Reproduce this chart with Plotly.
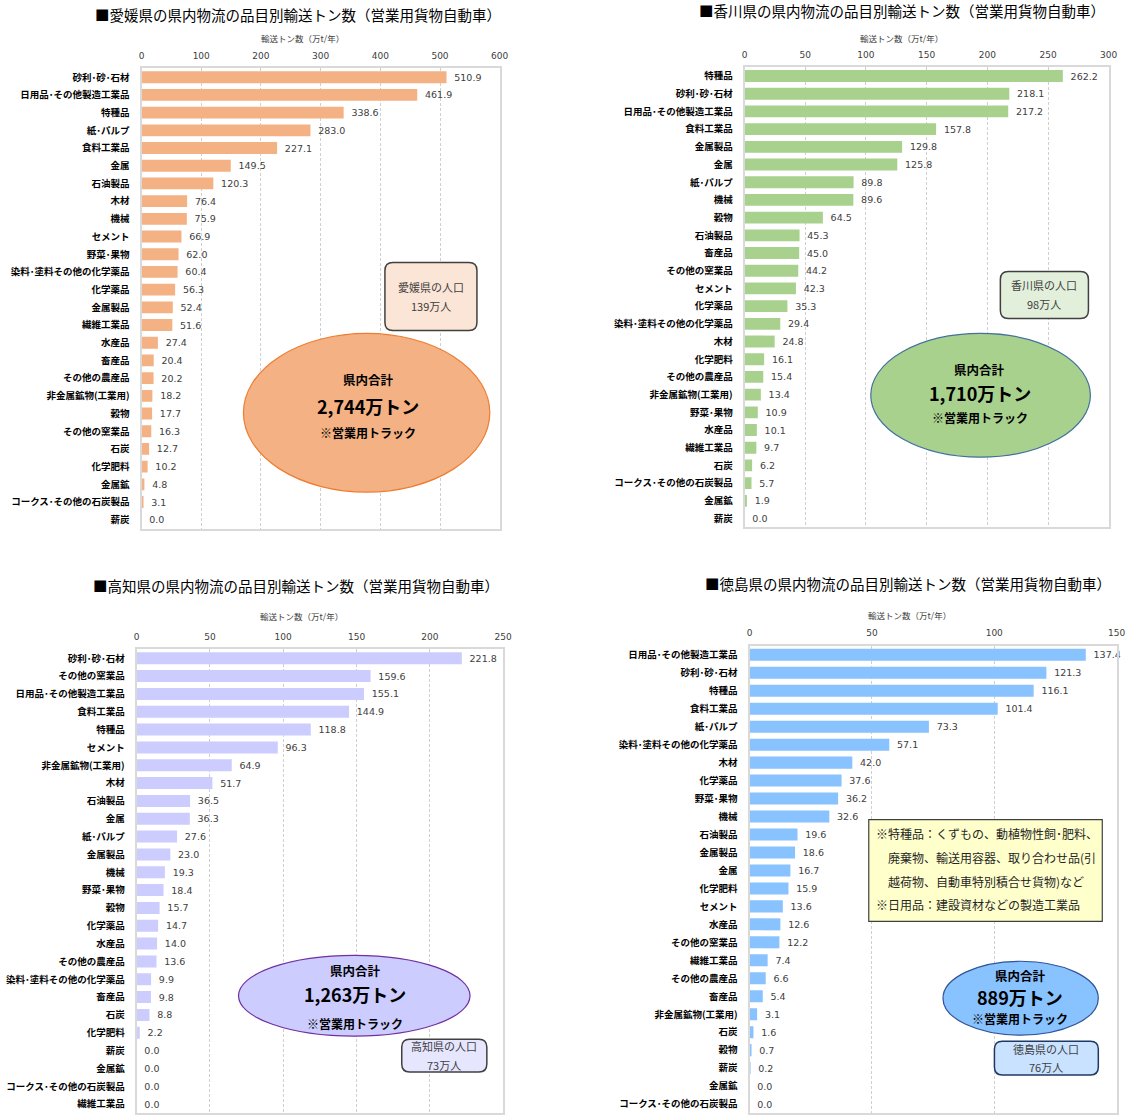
import plotly.graph_objects as go

W, H = 1137, 1115


def px(x):
    return x / W


def py(y):
    return 1 - y / H


# ---------------- data ----------------
ehime_cats = ["砂利･砂･石材", "日用品･その他製造工業品", "特種品", "紙･パルプ", "食料工業品", "金属", "石油製品",
              "木材", "機械", "セメント", "野菜･果物", "染料･塗料その他の化学薬品", "化学薬品", "金属製品",
              "繊維工業品", "水産品", "畜産品", "その他の農産品", "非金属鉱物(工業用)", "穀物", "その他の窯業品",
              "石炭", "化学肥料", "金属鉱", "コークス･その他の石炭製品", "薪炭"]
ehime_vals = [510.9, 461.9, 338.6, 283.0, 227.1, 149.5, 120.3, 76.4, 75.9, 66.9, 62.0, 60.4, 56.3, 52.4,
              51.6, 27.4, 20.4, 20.2, 18.2, 17.7, 16.3, 12.7, 10.2, 4.8, 3.1, 0.0]

kagawa_cats = ["特種品", "砂利･砂･石材", "日用品･その他製造工業品", "食料工業品", "金属製品", "金属", "紙･パルプ",
               "機械", "穀物", "石油製品", "畜産品", "その他の窯業品", "セメント", "化学薬品",
               "染料･塗料その他の化学薬品", "木材", "化学肥料", "その他の農産品", "非金属鉱物(工業用)", "野菜･果物",
               "水産品", "繊維工業品", "石炭", "コークス･その他の石炭製品", "金属鉱", "薪炭"]
kagawa_vals = [262.2, 218.1, 217.2, 157.8, 129.8, 125.8, 89.8, 89.6, 64.5, 45.3, 45.0, 44.2, 42.3, 35.3,
               29.4, 24.8, 16.1, 15.4, 13.4, 10.9, 10.1, 9.7, 6.2, 5.7, 1.9, 0.0]

kochi_cats = ["砂利･砂･石材", "その他の窯業品", "日用品･その他製造工業品", "食料工業品", "特種品", "セメント",
              "非金属鉱物(工業用)", "木材", "石油製品", "金属", "紙･パルプ", "金属製品", "機械", "野菜･果物",
              "穀物", "化学薬品", "水産品", "その他の農産品", "染料･塗料その他の化学薬品", "畜産品", "石炭",
              "化学肥料", "薪炭", "金属鉱", "コークス･その他の石炭製品", "繊維工業品"]
kochi_vals = [221.8, 159.6, 155.1, 144.9, 118.8, 96.3, 64.9, 51.7, 36.5, 36.3, 27.6, 23.0, 19.3, 18.4,
              15.7, 14.7, 14.0, 13.6, 9.9, 9.8, 8.8, 2.2, 0.0, 0.0, 0.0, 0.0]

toku_cats = ["日用品･その他製造工業品", "砂利･砂･石材", "特種品", "食料工業品", "紙･パルプ",
             "染料･塗料その他の化学薬品", "木材", "化学薬品", "野菜･果物", "機械", "石油製品", "金属製品", "金属",
             "化学肥料", "セメント", "水産品", "その他の窯業品", "繊維工業品", "その他の農産品", "畜産品",
             "非金属鉱物(工業用)", "石炭", "穀物", "薪炭", "金属鉱", "コークス･その他の石炭製品"]
toku_vals = [137.4, 121.3, 116.1, 101.4, 73.3, 57.1, 42.0, 37.6, 36.2, 32.6, 19.6, 18.6, 16.7, 15.9,
             13.6, 12.6, 12.2, 7.4, 6.6, 5.4, 3.1, 1.6, 0.7, 0.2, 0.0, 0.0]

titles = ["■愛媛県の県内物流の品目別輸送トン数（営業用貨物自動車）",
          "■香川県の県内物流の品目別輸送トン数（営業用貨物自動車）",
          "■高知県の県内物流の品目別輸送トン数（営業用貨物自動車）",
          "■徳島県の県内物流の品目別輸送トン数（営業用貨物自動車）"]
axis_title = "輸送トン数（万t/年）"
totals = ["2,744万トン", "1,710万トン", "1,263万トン", "889万トン"]
pops = [("愛媛県の人口", "139万人"), ("香川県の人口", "98万人"), ("高知県の人口", "73万人"), ("徳島県の人口", "76万人")]
x_max = [600, 300, 250, 150]
x_dtick = [100, 50, 50, 50]

# ---------------- layout per panel (pixels) ----------------
panels = [
    dict(cats=ehime_cats, vals=ehime_vals, color="#F4B183",
         xd=(140, 502), yd=(68.5, 529.5), title=(298, 15), atitle=(303, 38),
         ell=(243, 334, 492, 493), ellfill="#F4B183", ellline="#ED7D31",
         ell_tx=369, ell_ty=(380, 407, 433),
         pop=(386, 263, 479, 331), popfill="#FBE5D6", popline="#404040", pop_ty=(288, 307)),
    dict(cats=kagawa_cats, vals=kagawa_vals, color="#A9D18E",
         xd=(749.5, 1117.5), yd=(67.3, 528.3), title=(909, 10.5), atitle=(908, 38),
         ell=(877, 334, 1099, 458), ellfill="#A9D18E", ellline="#41719C",
         ell_tx=987, ell_ty=(370, 394, 418),
         pop=(1008, 272, 1097, 319), popfill="#E2EFDA", popline="#404040", pop_ty=(286, 305)),
    dict(cats=kochi_cats, vals=kochi_vals, color="#CCCCFF",
         xd=(135, 505.5), yd=(650.5, 1115), title=(296, 587), atitle=(302, 617),
         ell=(238, 957, 472, 1038), ellfill="#CCCCFF", ellline="#7030A0",
         ell_tx=356, ell_ty=(972, 996, 1025),
         pop=(403, 1041, 489, 1074), popfill="#E6E6FF", popline="#404040", pop_ty=(1048, 1067)),
    dict(cats=toku_cats, vals=toku_vals, color="#88C2FF",
         xd=(754.5, 1125.5), yd=(647, 1115), title=(915, 585), atitle=(916, 616),
         ell=(950, 963, 1107, 1037), ellfill="#88C2FF", ellline="#2F5597",
         ell_tx=1028, ell_ty=(977, 999, 1020),
         pop=(1002, 1043, 1107, 1077), popfill="#C9E2FF", popline="#1F3864", pop_ty=(1051, 1069)),
]

JP = "Noto Sans CJK JP"
NUM = "DejaVu Sans"

fig = go.Figure()
shapes = []
annotations = []
layout_axes = {}


def rounded_rect(x0, y0, x1, y1, r):
    X0, X1 = px(x0), px(x1)
    Y0, Y1 = py(y0), py(y1)
    rx, ry = r / W, r / H
    return (f"M {X0 + rx},{Y0} L {X1 - rx},{Y0} Q {X1},{Y0} {X1},{Y0 - ry} "
            f"L {X1},{Y1 + ry} Q {X1},{Y1} {X1 - rx},{Y1} "
            f"L {X0 + rx},{Y1} Q {X0},{Y1} {X0},{Y1 + ry} "
            f"L {X0},{Y0 - ry} Q {X0},{Y0} {X0 + rx},{Y0} Z")


for i, p in enumerate(panels):
    n = "" if i == 0 else str(i + 1)
    xa, ya = "x" + n, "y" + n
    fig.add_trace(go.Bar(
        x=p["vals"], y=p["cats"], orientation="h",
        marker=dict(color=p["color"], line=dict(width=0)),
        texttemplate="\u2002%{x:.1f}", textposition="outside",
        textfont=dict(family=NUM, size=9.5, color="#404040"),
        constraintext="none", cliponaxis=False,
        xaxis=xa, yaxis=ya, showlegend=False, hoverinfo="skip",
    ))
    layout_axes["xaxis" + n] = dict(
        domain=[px(p["xd"][0]), px(p["xd"][1])], anchor=ya, side="top",
        range=[0, x_max[i]], tick0=0, dtick=x_dtick[i],
        showgrid=True, gridcolor="#CFCFCF", griddash="3px,2px", gridwidth=1,
        showline=True, mirror=True, linecolor="#D9D9D9", linewidth=2,
        zeroline=False, ticks="", ticklabelstandoff=4,
        tickfont=dict(family=NUM, size=9, color="#404040"), fixedrange=True,
    )
    layout_axes["yaxis" + n] = dict(
        domain=[py(p["yd"][1]), py(p["yd"][0])], anchor=xa, type="category",
        categoryorder="array", categoryarray=p["cats"], autorange="reversed",
        showline=True, mirror=True, linecolor="#D9D9D9", linewidth=2,
        showgrid=False, zeroline=False, ticks="", ticklabelstandoff=8,
        tickfont=dict(family=JP, size=9.5, color="#000000", weight="bold"), fixedrange=True,
    )
    # title
    annotations.append(dict(text=titles[i], x=px(p["title"][0]), y=py(p["title"][1]),
                            xref="paper", yref="paper", xanchor="center", yanchor="middle",
                            showarrow=False, font=dict(family=JP, size=14.5, color="#000000")))
    annotations.append(dict(text=axis_title, x=px(p["atitle"][0]), y=py(p["atitle"][1]),
                            xref="paper", yref="paper", xanchor="center", yanchor="middle",
                            showarrow=False, font=dict(family=JP, size=8.5, color="#404040")))
    # ellipse
    ex0, ey0, ex1, ey1 = p["ell"]
    shapes.append(dict(type="circle", xref="paper", yref="paper",
                       x0=px(ex0), x1=px(ex1), y0=py(ey1), y1=py(ey0),
                       fillcolor=p["ellfill"], line=dict(color=p["ellline"], width=1.2), layer="above"))
    for txt, yy, sz in zip(["県内合計", totals[i], "※営業用トラック"], p["ell_ty"], [12.5, 18, 12]):
        annotations.append(dict(text=f"<b>{txt}</b>", x=px(p["ell_tx"]), y=py(yy),
                                xref="paper", yref="paper", xanchor="center", yanchor="middle",
                                showarrow=False, font=dict(family=JP, size=sz, color="#000000")))
    # population box
    bx0, by0, bx1, by1 = p["pop"]
    shapes.append(dict(type="path", xref="paper", yref="paper", path=rounded_rect(bx0, by0, bx1, by1, 8),
                       fillcolor=p["popfill"], line=dict(color=p["popline"], width=1.5), layer="above"))
    for txt, yy in zip(pops[i], p["pop_ty"]):
        annotations.append(dict(text=txt, x=px((bx0 + bx1) / 2), y=py(yy),
                                xref="paper", yref="paper", xanchor="center", yanchor="middle",
                                showarrow=False, font=dict(family=JP, size=11, color="#404040")))

# Tokushima note box
shapes.append(dict(type="rect", xref="paper", yref="paper", x0=px(875), x1=px(1111), y0=py(923), y1=py(821),
                   fillcolor="#FFFFCC", line=dict(color="#404040", width=1.2), layer="above"))
note_lines = [("※特種品：くずもの、動植物性飼･肥料、", 880, 835),
              ("廃棄物、輸送用容器、取り合わせ品(引", 892, 859),
              ("越荷物、自動車特別積合せ貨物)など", 892, 883),
              ("※日用品：建設資材などの製造工業品", 880, 906)]
for txt, xx, yy in note_lines:
    annotations.append(dict(text=txt, x=px(xx), y=py(yy), xref="paper", yref="paper",
                            xanchor="left", yanchor="middle", showarrow=False,
                            font=dict(family=JP, size=12, color="#262626")))

fig.update_layout(
    width=W, height=H, margin=dict(l=0, r=0, t=0, b=0),
    paper_bgcolor="white", plot_bgcolor="white",
    bargap=0.33, shapes=shapes, annotations=annotations,
    font=dict(family=JP),
    **layout_axes,
)

fig.write_html("out.html")
